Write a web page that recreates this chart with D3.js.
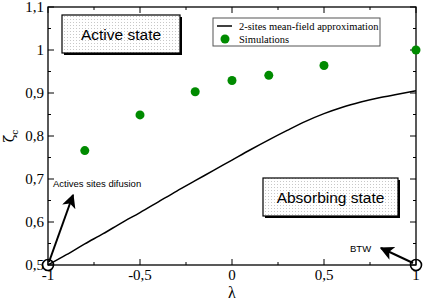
<!DOCTYPE html>
<html>
<head>
<meta charset="utf-8">
<script src="https://cdn.jsdelivr.net/npm/d3@7"></script>
<style>
  body { margin: 0; background: #fff; }
  svg { display: block; }
</style>
</head>
<body>
<script>
const w = 423;
const h = 300;
const margin = {top: 7, right: 7, bottom: 35, left: 48};

// mean-field curve
const lambdaLine = [-1, -0.9, -0.8, -0.7, -0.6, -0.5, -0.4, -0.3, -0.2, -0.1, 0, 0.1, 0.2, 0.3, 0.4, 0.5, 0.6, 0.7, 0.8, 0.9, 1];
const zetaLine = [0.5, 0.524, 0.549, 0.573, 0.598, 0.622, 0.647, 0.672, 0.696, 0.72, 0.744, 0.768, 0.791, 0.813, 0.834, 0.852, 0.867, 0.879, 0.889, 0.897, 0.905];

// simulations
const lambdaSim = [-0.8, -0.5, -0.2, 0, 0.2, 0.5, 1];
const zetaSim = [0.766, 0.849, 0.903, 0.929, 0.941, 0.964, 1.0];

const xTicks = [-1, -0.5, 0, 0.5, 1];
const yTicks = [0.5, 0.6, 0.7, 0.8, 0.9, 1, 1.1];

const fmt = v => String(v).replace(".", ",");

let svg = d3.select("body").append("svg")
  .attr("width", w)
  .attr("height", h);

let defs = svg.append("defs");
let pat = defs.append("pattern")
  .attr("id", "dots")
  .attr("width", 3).attr("height", 3)
  .attr("patternUnits", "userSpaceOnUse");
pat.append("rect").attr("width", 3).attr("height", 3).attr("fill", "#fff");
pat.append("rect").attr("x", 1).attr("y", 1).attr("width", 1).attr("height", 1).attr("fill", "#c8c8c8");

defs.append("marker")
  .attr("id", "head")
  .attr("viewBox", "0 0 10 10")
  .attr("refX", 9).attr("refY", 5)
  .attr("markerWidth", 7).attr("markerHeight", 7)
  .attr("markerUnits", "strokeWidth")
  .attr("orient", "auto")
  .append("path")
  .attr("d", "M0,0 L10,5 L0,10 L2.5,5 Z")
  .attr("fill", "#000");

let xScale = d3.scaleLinear().domain([-1, 1]).range([margin.left, w - margin.right]);
let yScale = d3.scaleLinear().domain([0.5, 1.1]).range([h - margin.bottom, margin.top]);

const x0 = xScale(-1), x1 = xScale(1), y0 = yScale(0.5), y1 = yScale(1.1);

// ticks, all pointing inward, on the four sides
const xMinor = d3.range(-1, 1.001, 0.25);
const yMinor = d3.range(0.5, 1.1001, 0.05);
let tk = svg.append("g").attr("stroke", "#000").attr("stroke-width", 1);
xMinor.forEach((v, i) => {
  let len = i % 2 === 0 ? 6 : 3;
  tk.append("line").attr("x1", xScale(v)).attr("x2", xScale(v)).attr("y1", y0).attr("y2", y0 - len);
  tk.append("line").attr("x1", xScale(v)).attr("x2", xScale(v)).attr("y1", y1).attr("y2", y1 + len);
});
yMinor.forEach((v, i) => {
  let len = i % 2 === 0 ? 6 : 3;
  tk.append("line").attr("y1", yScale(v)).attr("y2", yScale(v)).attr("x1", x0).attr("x2", x0 + len);
  tk.append("line").attr("y1", yScale(v)).attr("y2", yScale(v)).attr("x1", x1).attr("x2", x1 - len);
});

svg.append("rect")
  .attr("x", x0).attr("y", y1)
  .attr("width", x1 - x0).attr("height", y0 - y1)
  .attr("fill", "none").attr("stroke", "#000").attr("stroke-width", 1.3);

// tick labels
svg.selectAll(".xl").data(xTicks).enter().append("text")
  .attr("x", d => xScale(d)).attr("y", y0 + 15)
  .attr("text-anchor", "middle")
  .style("font-family", "Liberation Serif").style("font-size", "15px")
  .text(d => fmt(d));
svg.selectAll(".yl").data(yTicks).enter().append("text")
  .attr("x", x0 - 4).attr("y", d => yScale(d) + 5)
  .attr("text-anchor", "end")
  .style("font-family", "Liberation Serif").style("font-size", "15px")
  .text(d => fmt(d));

// axis titles
svg.append("text")
  .attr("x", xScale(0)).attr("y", 298)
  .attr("text-anchor", "middle")
  .style("font-family", "Liberation Serif").style("font-size", "16px")
  .text("λ");
let yt = svg.append("text")
  .attr("transform", "translate(14,136) rotate(-90)")
  .attr("text-anchor", "middle")
  .style("font-family", "DejaVu Serif").style("font-size", "14px");
yt.append("tspan").text("ζ");
yt.append("tspan").attr("dy", 4).style("font-size", "9px").text("c");

// text boxes
function box(x, y, bw, bh, label) {
  svg.append("rect").attr("x", x + 2).attr("y", y + 2).attr("width", bw).attr("height", bh).attr("fill", "#000");
  svg.append("rect").attr("x", x).attr("y", y).attr("width", bw).attr("height", bh)
    .attr("fill", "url(#dots)").attr("stroke", "#000").attr("stroke-width", 1.2);
  svg.append("text").attr("x", x + bw / 2).attr("y", y + bh / 2 + 5.5)
    .attr("text-anchor", "middle")
    .style("font-family", "Liberation Sans").style("font-size", "15.5px")
    .text(label);
}
box(62, 15, 118, 38, "Active state");
box(263, 178, 135, 38, "Absorbing state");

// legend
let lg = svg.append("g");
lg.append("rect").attr("x", 213).attr("y", 18).attr("width", 167).attr("height", 28)
  .attr("fill", "#fff").attr("stroke", "#555").attr("stroke-width", 1);
lg.append("line").attr("x1", 217).attr("x2", 232).attr("y1", 26).attr("y2", 26)
  .attr("stroke", "#000").attr("stroke-width", 1.5);
lg.append("circle").attr("cx", 225).attr("cy", 39).attr("r", 4.5).attr("fill", "#008b00");
lg.append("text").attr("x", 239).attr("y", 29.5)
  .style("font-family", "Liberation Serif").style("font-size", "10.5px").text("2-sites mean-field approximation");
lg.append("text").attr("x", 239).attr("y", 42.5)
  .style("font-family", "Liberation Serif").style("font-size", "10.5px").text("Simulations");

// mean-field line
let line = d3.line()
  .x((d, i) => xScale(lambdaLine[i]))
  .y(d => yScale(d))
  .curve(d3.curveMonotoneX);
svg.append("path")
  .attr("d", line(zetaLine))
  .attr("fill", "none").attr("stroke", "#000").attr("stroke-width", 1.5);

// simulations
svg.selectAll(".sim").data(zetaSim).enter().append("circle")
  .attr("cx", (d, i) => xScale(lambdaSim[i]))
  .attr("cy", d => yScale(d))
  .attr("r", 4.5)
  .attr("fill", "#008b00");

// annotations
svg.append("line").attr("x1", x0 + 1).attr("y1", y0 - 3).attr("x2", 73).attr("y2", 195)
  .attr("stroke", "#000").attr("stroke-width", 2).attr("marker-end", "url(#head)");
svg.append("line").attr("x1", x1 - 3).attr("y1", y0 - 2).attr("x2", 381).attr("y2", 248)
  .attr("stroke", "#000").attr("stroke-width", 2).attr("marker-end", "url(#head)");
svg.append("text").attr("x", 53).attr("y", 187)
  .style("font-family", "Liberation Sans").style("font-size", "9.5px").text("Actives sites difusion");
svg.append("text").attr("x", 350).attr("y", 252)
  .style("font-family", "Liberation Sans").style("font-size", "9.5px").text("BTW");

[x0, x1].forEach(cx => {
  svg.append("circle").attr("cx", cx).attr("cy", y0).attr("r", 5.5)
    .attr("fill", "none").attr("stroke", "#000").attr("stroke-width", 1.6);
});
</script>
</body>
</html>
